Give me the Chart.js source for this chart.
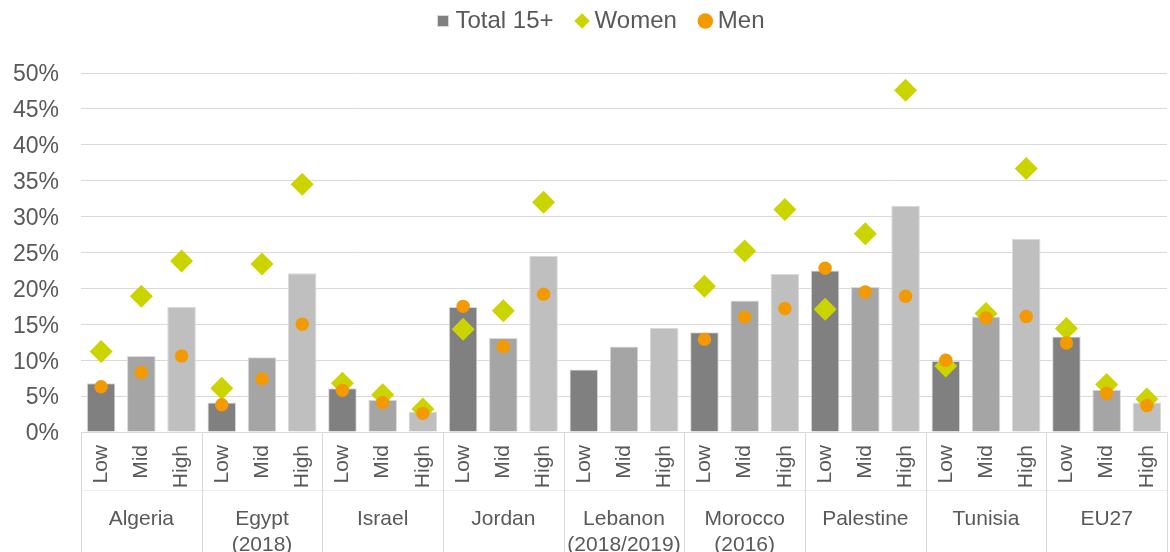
<!DOCTYPE html>
<html>
<head>
<meta charset="utf-8">
<script src="https://cdn.jsdelivr.net/npm/chart.js@4.4.1/dist/chart.umd.min.js"></script>
<style>
	html, body { margin: 0; padding: 0; background: #fff; }
	#wrap { width: 1170px; height: 552px; }
</style>
</head>
<body>
<div id="wrap"><canvas id="chart"></canvas></div>
<script>
"use strict";

const countries = ["Algeria", ["Egypt", "(2018)"], "Israel", "Jordan", ["Lebanon", "(2018/2019)"], ["Morocco", "(2016)"], "Palestine", "Tunisia", "EU27"];
const levels = ["Low", "Mid", "High"];

// share in %, one value per country/level pair (Low, Mid, High)
const total15 = [6.8, 10.6, 17.4, 4.1, 10.4, 22.1, 6.1, 4.5, 2.8, 17.4, 13.1, 24.5, 8.7, 11.9, 14.5, 13.9, 18.3, 22.0, 22.5, 20.2, 31.5, 9.9, 16.1, 26.9, 13.3, 5.9, 4.1];
const women = [11.2, 18.9, 23.8, 6.1, 23.4, 34.5, 6.8, 5.2, 3.2, 14.3, 16.9, 32.0, null, null, null, 20.3, 25.2, 31.0, 17.1, 27.6, 47.6, 9.2, 16.5, 36.7, 14.4, 6.6, 4.6];
const men = [6.3, 8.3, 10.6, 3.8, 7.4, 15.0, 5.8, 4.1, 2.6, 17.5, 11.9, 19.2, null, null, null, 12.9, 16.0, 17.2, 22.8, 19.5, 18.9, 10.0, 15.9, 16.1, 12.4, 5.4, 3.7];

const barShades = ["#808080", "#a5a5a5", "#bfbfbf"];
const textColor = "#595959";
const lineColor = "#d9d9d9";

const subLabels = countries.flatMap(() => levels);

// vertical separators between the country groups, below the plot,
// plus a faint rule between the two label rows
const groupLines = {
	id: "groupLines",
	afterDraw(chart) {
		const x = chart.scales.x;
		const step = x.getPixelForValue(1) - x.getPixelForValue(0);
		const ctx = chart.ctx;
		ctx.save();
		ctx.lineWidth = 1;
		ctx.strokeStyle = "#eeeeee";
		ctx.beginPath();
		ctx.moveTo(chart.chartArea.left, Math.round(x.bottom) + 0.5);
		ctx.lineTo(chart.chartArea.right, Math.round(x.bottom) + 0.5);
		ctx.stroke();
		ctx.strokeStyle = lineColor;
		ctx.beginPath();
		for (let g = 0; g <= countries.length; g++) {
			const px = Math.round(x.getPixelForValue(g * levels.length) - step / 2) + 0.5;
			ctx.moveTo(px, chart.chartArea.bottom);
			ctx.lineTo(px, chart.height);
		}
		ctx.stroke();
		ctx.restore();
	},
};

// extra room between legend and plot, legend nudged right
const legendSpacing = {
	id: "legendSpacing",
	beforeInit(chart) {
		const fit = chart.legend.fit;
		chart.legend.fit = function () {
			fit.call(this);
			this.height += 30;
		};
	},
	afterLayout(chart) {
		chart.legend.left += 15;
		chart.legend.right += 15;
	},
};

Chart.defaults.font.family = "'Liberation Sans', Arial, sans-serif";
Chart.defaults.color = textColor;

new Chart(document.getElementById("chart"), {
	data: {
		labels: subLabels,
		datasets: [
			{
				type: "bar",
				label: "Total 15+",
				data: total15,
				backgroundColor: (ctx) => barShades[ctx.dataIndex % 3],
				borderColor: lineColor,
				borderWidth: 1,
				barPercentage: 0.71,
				categoryPercentage: 1,
				pointStyle: "rect",
				order: 2,
			},
			{
				type: "line",
				label: "Women",
				data: women,
				showLine: false,
				pointStyle: "rectRot",
				pointRadius: 11.5,
				pointBorderWidth: 0,
				backgroundColor: "#ccd400",
				borderColor: "#ccd400",
				order: 1,
			},
			{
				type: "line",
				label: "Men",
				data: men,
				showLine: false,
				pointStyle: "circle",
				pointRadius: 6.7,
				pointBorderWidth: 0,
				backgroundColor: "#f39a00",
				borderColor: "#f39a00",
				order: 0,
			},
		],
	},
	options: {
		responsive: true,
		maintainAspectRatio: false,
		animation: false,
		events: [],
		layout: { autoPadding: false, padding: { left: 10, right: 3, top: -19, bottom: 0 } },
		plugins: {
			tooltip: { enabled: false },
			legend: {
				position: "top",
				labels: {
					usePointStyle: true,
					boxWidth: 1,
					boxHeight: 11,
					padding: 28,
					font: { size: 24 },
					color: textColor,
					sort: (a, b) => a.datasetIndex - b.datasetIndex,
				},
			},
		},
		scales: {
			x: {
				type: "category",
				offset: true,
				grid: { display: false, drawTicks: false },
				border: { display: true, color: lineColor, width: 1 },
				ticks: {
					autoSkip: false,
					minRotation: 90,
					maxRotation: 90,
					padding: 13,
					font: { size: 21 },
					color: textColor,
				},
				afterFit: (scale) => {
					scale.height = 58;
					scale.paddingLeft = 0;
					scale.paddingRight = 0;
				},
			},
			xg: {
				type: "category",
				position: "bottom",
				labels: countries,
				offset: true,
				grid: { display: false, drawTicks: false },
				border: { display: false },
				ticks: {
					autoSkip: false,
					maxRotation: 0,
					padding: 17,
					font: { size: 21 },
					color: textColor,
				},
				// second label line runs down to the bottom edge
				afterFit: (scale) => {
					scale.height = 62;
					scale.paddingLeft = 0;
					scale.paddingRight = 0;
				},
			},
			y: {
				min: 0,
				max: 50,
				grid: { color: lineColor, drawTicks: false },
				border: { display: false },
				ticks: {
					stepSize: 5,
					padding: 22,
					labelOffset: 2,
					font: { size: 23 },
					color: textColor,
					callback: (v) => v + "%",
				},
				afterFit: (scale) => {
					scale.width = 71;
				},
			},
		},
	},
	plugins: [groupLines, legendSpacing],
});
</script>
</body>
</html>
